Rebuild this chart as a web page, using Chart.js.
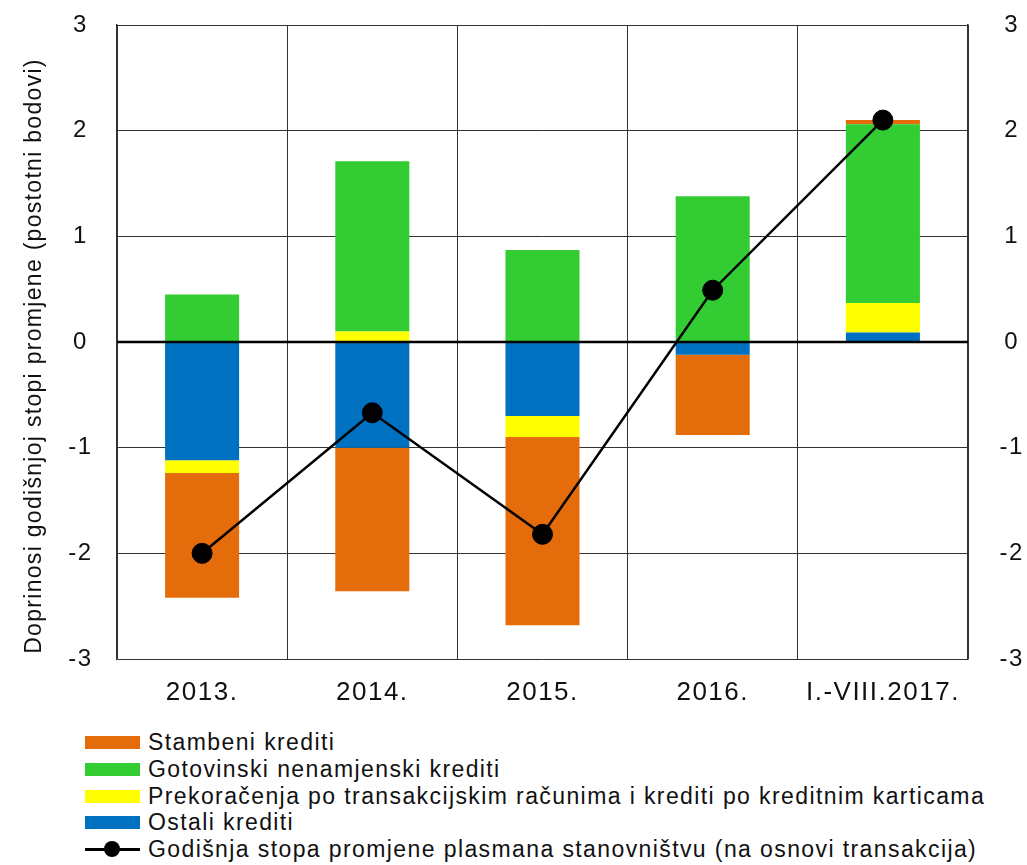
<!DOCTYPE html>
<html>
<head>
<meta charset="utf-8">
<script src="https://cdn.jsdelivr.net/npm/chart.js@4"></script>
<style>
  body { margin: 0; background: #fff; font-family: "Liberation Sans", Arial, sans-serif; }
  #wrap { position: relative; width: 1027px; height: 865px; }
  #chart { position: absolute; left: 0; top: 0; }
  #legend { position: absolute; left: 85px; top: 729px; font-size: 23px; letter-spacing: 1.4px; color: #111; }
  .row { position: relative; height: 26.8px; line-height: 26.8px; padding-left: 63px; white-space: nowrap; }
  .sw { position: absolute; left: 0; top: 7px; width: 55px; height: 13px; }
  .ln { position: absolute; left: 0; top: 12px; width: 55px; height: 2.5px; background: #000; }
  .dot { position: absolute; left: 19px; top: 5px; width: 16px; height: 16px; border-radius: 50%; background: #000; }
</style>
</head>
<body>
<div id="wrap">
  <canvas id="chart" width="1027" height="710"></canvas>
  <div id="legend"></div>
</div>
<script>
const categories = ['2013.', '2014.', '2015.', '2016.', 'I.-VIII.2017.'];
const ostali = [-1.12, -1.0, -0.70, -0.12, 0.09];
const prekoracenja = [-0.12, 0.10, -0.20, 0, 0.28];
const gotovinski = [0.45, 1.61, 0.87, 1.38, 1.69];
const stambeni = [-1.18, -1.36, -1.78, -0.76, 0.04];
const godisnjaStopa = [-2.0, -0.67, -1.82, 0.49, 2.1];
const yTicks = [-3, -2, -1, 0, 1, 2, 3];

const colors = {
    stambeni: '#E46C0A',
    gotovinski: '#33CC33',
    prekoracenja: '#FFFF00',
    ostali: '#0070C0',
};

const legendItems = [
    { label: 'Stambeni krediti', color: colors.stambeni },
    { label: 'Gotovinski nenamjenski krediti', color: colors.gotovinski },
    { label: 'Prekoračenja po transakcijskim računima i krediti po kreditnim karticama', color: colors.prekoracenja },
    { label: 'Ostali krediti', color: colors.ostali },
    { label: 'Godišnja stopa promjene plasmana stanovništvu (na osnovi transakcija)', line: true },
];

const legendEl = document.getElementById('legend');
legendItems.forEach(item => {
    const row = document.createElement('div');
    row.className = 'row';
    if (item.line) {
        row.innerHTML = '<span class="ln"></span><span class="dot"></span>';
    } else {
        row.innerHTML = '<span class="sw" style="background:' + item.color + '"></span>';
    }
    row.appendChild(document.createTextNode(item.label));
    legendEl.appendChild(row);
});

const fontFamily = '"Liberation Sans", Arial, sans-serif';

const extras = {
    id: 'extras',
    beforeDraw(chart) {
        chart.ctx.letterSpacing = '1.5px';
    },
    beforeDatasetDraw(chart, args) {
        if (args.meta.type !== 'line') return;
        const { ctx, chartArea, scales } = chart;
        const y0 = scales.y.getPixelForValue(0);
        ctx.save();
        ctx.strokeStyle = '#000';
        ctx.lineWidth = 2.5;
        ctx.beginPath();
        ctx.moveTo(chartArea.left, y0);
        ctx.lineTo(chartArea.right, y0);
        ctx.stroke();
        ctx.restore();
    },
    afterDraw(chart) {
        const ctx = chart.ctx;
        ctx.save();
        ctx.letterSpacing = '1.3px';
        ctx.translate(35, 356);
        ctx.rotate(-Math.PI / 2);
        ctx.font = '23px ' + fontFamily;
        ctx.fillStyle = '#111';
        ctx.textAlign = 'center';
        ctx.textBaseline = 'middle';
        ctx.fillText('Doprinosi godišnjoj stopi promjene (postotni bodovi)', 0, 0);
        ctx.restore();
    }
};

function barSet(label, data, color) {
    return {
        type: 'bar',
        label: label,
        data: data,
        backgroundColor: color,
        borderWidth: 0,
        barPercentage: 0.435,
        categoryPercentage: 1,
        stack: 'a',
        order: 1,
        yAxisID: 'y',
    };
}

// fixed widths, no extra label padding on the value axes
function fitY(width) {
    return scale => {
        scale.width = width;
        scale.paddingTop = 0;
        scale.paddingBottom = 0;
    };
}

const ctx = document.getElementById('chart').getContext('2d');
new Chart(ctx, {
    data: {
        labels: categories,
        datasets: [
            barSet('Ostali krediti', ostali, colors.ostali),
            barSet('Prekoračenja', prekoracenja, colors.prekoracenja),
            barSet('Gotovinski nenamjenski krediti', gotovinski, colors.gotovinski),
            barSet('Stambeni krediti', stambeni, colors.stambeni),
            {
                type: 'line',
                label: 'Godišnja stopa promjene plasmana stanovništvu',
                data: godisnjaStopa,
                borderColor: '#000',
                borderWidth: 2.5,
                pointRadius: 10,
                pointBackgroundColor: '#000',
                pointBorderColor: '#000',
                pointBorderWidth: 1,
                tension: 0,
                order: 0,
                yAxisID: 'y',
            },
        ],
    },
    plugins: [extras],
    options: {
        responsive: false,
        animation: false,
        layout: { padding: { top: 25, left: 0, right: 0, bottom: 0 } },
        plugins: {
            legend: { display: false },
            tooltip: { enabled: false },
        },
        scales: {
            x: {
                stacked: true,
                offset: true,
                grid: { offset: true, color: '#333', lineWidth: 1, drawTicks: false },
                border: { display: false },
                ticks: { font: { size: 26, family: fontFamily }, color: '#111', padding: 18, maxRotation: 0 },
                afterFit: scale => { scale.height = 51; },
            },
            y: {
                stacked: true,
                position: 'left',
                min: -3,
                max: 3,
                afterBuildTicks: scale => { scale.ticks = yTicks.map(v => ({ value: v })); },
                grid: { color: '#333', lineWidth: 1, drawTicks: false },
                border: { display: true, color: '#333', width: 1.5 },
                ticks: { font: { size: 24, family: fontFamily }, color: '#111', padding: 26, crossAlign: 'center' },
                afterFit: fitY(117),
            },
            y2: {
                position: 'right',
                min: -3,
                max: 3,
                afterBuildTicks: scale => { scale.ticks = yTicks.map(v => ({ value: v })); },
                grid: { display: false },
                border: { display: true, color: '#333', width: 1.5 },
                ticks: { font: { size: 24, family: fontFamily }, color: '#111', padding: 25, crossAlign: 'center' },
                afterFit: fitY(59),
            },
        },
    },
});
</script>
</body>
</html>
